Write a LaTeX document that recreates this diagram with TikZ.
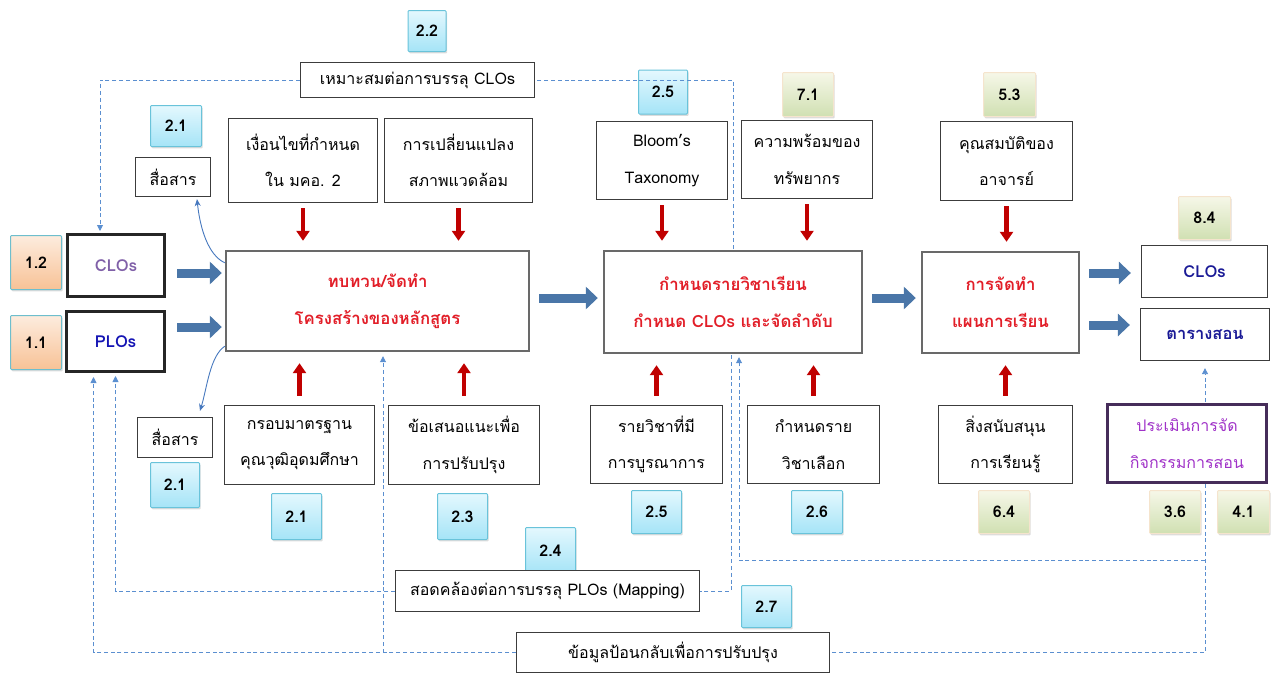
\documentclass[tikz,border=0pt]{standalone}
\usepackage{fontspec}
\setmainfont[Script=Thai]{Loma}
\usetikzlibrary{arrows.meta,shadows,calc}

\definecolor{fbblue}{RGB}{91,143,208}
\definecolor{arrblue}{RGB}{74,118,168}
\definecolor{redarr}{RGB}{192,0,0}
\definecolor{maintxt}{RGB}{226,30,40}
\definecolor{boxline}{RGB}{60,60,60}
\definecolor{mainline}{RGB}{105,105,105}
\definecolor{navytxt}{RGB}{26,26,150}
\definecolor{plotxt}{RGB}{20,20,180}
\definecolor{clotxt}{RGB}{128,96,168}
\definecolor{evaltxt}{RGB}{160,50,200}
\definecolor{evalline}{RGB}{70,45,90}
\definecolor{curvcol}{RGB}{70,120,190}
\definecolor{bbline}{RGB}{105,195,218}
\definecolor{bbtop}{RGB}{228,248,254}
\definecolor{bbbot}{RGB}{165,228,247}
\definecolor{gbline}{RGB}{245,228,205}
\definecolor{gbtop}{RGB}{246,247,232}
\definecolor{gbbot}{RGB}{208,224,178}
\definecolor{obline}{RGB}{110,190,205}
\definecolor{obtop}{RGB}{253,236,222}
\definecolor{obbot}{RGB}{248,194,150}

\tikzset{
  x=1pt, y=-1pt,
  txt/.style={font=\fontsize{16}{36.5}\selectfont},
  box/.style={draw=boxline, line width=1.3pt, fill=white, align=center, inner sep=0pt, txt},
  mainbox/.style={draw=mainline, line width=2.4pt, fill=white, align=center, inner sep=0pt,
    font=\bfseries\fontsize{16.8}{37}\selectfont, text=maintxt},
  objbox/.style={draw=black!85, line width=3pt, fill=white, align=center, inner sep=0pt,
    font=\bfseries\fontsize{16.5}{18}\selectfont},
  badge/.style={rounded corners=1pt, line width=1pt, inner sep=0pt,
    font=\bfseries\fontsize{16}{18}\selectfont,
    drop shadow={shadow xshift=1.2pt, shadow yshift=-1.8pt, opacity=0.28}},
  bluebadge/.style={badge, draw=bbline, top color=bbtop, bottom color=bbbot},
  greenbadge/.style={badge, draw=gbline, top color=gbtop, bottom color=gbbot},
  orangebadge/.style={badge, draw=obline, top color=obtop, bottom color=obbot},
  blockarr/.style={draw=arrblue, line width=9pt, -{Triangle[length=12pt,width=22pt]}},
  redup/.style={draw=redarr, line width=4.2pt, -{Triangle[length=10pt,width=13pt]}},
  fb/.style={draw=fbblue, line width=0.9pt, dash pattern=on 4pt off 2.8pt},
  fbarr/.style={fb, -{Triangle[length=6pt,width=6pt]}},
  curv/.style={draw=curvcol, line width=0.9pt, -{Stealth[length=7pt,width=6pt]}}
}

\begin{document}
\begin{tikzpicture}
\useasboundingbox (0,0) rectangle (1277,675);

% ---------- main process boxes ----------
\node[mainbox, minimum width=303pt, minimum height=100pt] (mainA) at (377.5,301) {ทบทวน/จัดทำ\\โครงสร้างของหลักสูตร};
\node[mainbox, minimum width=258pt, minimum height=102pt] (mainB) at (733,302) {กำหนดรายวิชาเรียน\\กำหนด CLOs และจัดลำดับ};
\node[mainbox, minimum width=157pt, minimum height=101pt] (mainC) at (1000.5,302.5) {การจัดทำ\\แผนการเรียน};

% ---------- inputs on the left ----------
\node[objbox, text=clotxt, minimum width=97pt, minimum height=62pt] (cloL) at (116,265.5) {CLOs};
\node[objbox, text=plotxt, minimum width=98pt, minimum height=60pt] (ploL) at (115.5,341.5) {PLOs};
\node[orangebadge, minimum width=51pt, minimum height=54pt] (b12) at (36,262.5) {1.2};
\node[orangebadge, minimum width=51pt, minimum height=54pt] (b11) at (36,342.5) {1.1};

% ---------- outputs on the right ----------
\node[box, minimum width=126pt, minimum height=52pt, font=\bfseries\fontsize{16.5}{18}\selectfont, text=navytxt] (cloR) at (1204.5,271.5) {CLOs};
\node[box, minimum width=129pt, minimum height=52pt, font=\bfseries\fontsize{16.5}{18}\selectfont, text=navytxt] (sched) at (1205,334.5) {ตารางสอน};
\node[greenbadge, minimum width=52pt, minimum height=43pt] (b84) at (1204.5,218) {8.4};

% ---------- upper factor boxes ----------
\node[box, minimum width=234pt, minimum height=35pt] (fitclo) at (417.5,80) {เหมาะสมต่อการบรรลุ CLOs};
\node[bluebadge, minimum width=38pt, minimum height=41pt] (b22) at (427,31) {2.2};
\node[box, minimum width=75pt, minimum height=39pt] (comA) at (173,177) {สื่อสาร};
\node[bluebadge, minimum width=51pt, minimum height=41pt] (b21a) at (176,126) {2.1};
\node[box, minimum width=149pt, minimum height=84pt] (condA) at (303,160.5) {เงื่อนไขที่กำหนด\\ใน มคอ. 2};
\node[box, minimum width=148pt, minimum height=84pt] (envA) at (458.5,160.5) {การเปลี่ยนแปลง\\สภาพแวดล้อม};
\node[box, minimum width=131pt, minimum height=78pt] (bloom) at (662,160.5) {Bloom’s\\Taxonomy};
\node[bluebadge, minimum width=49pt, minimum height=44pt] (b25a) at (663,92) {2.5};
\node[box, minimum width=131pt, minimum height=78pt] (res) at (807,159.5) {ความพร้อมของ\\ทรัพยากร};
\node[greenbadge, minimum width=51pt, minimum height=44pt] (b71) at (808,94.5) {7.1};
\node[box, minimum width=132pt, minimum height=79pt] (teach) at (1006.5,161) {คุณสมบัติของ\\อาจารย์};
\node[greenbadge, minimum width=52pt, minimum height=44pt] (b53) at (1009.5,94.5) {5.3};

% ---------- lower factor boxes ----------
\node[box, minimum width=75pt, minimum height=40pt] (comB) at (175,437.5) {สื่อสาร};
\node[bluebadge, minimum width=49pt, minimum height=45pt] (b21b) at (175,485) {2.1};
\node[box, minimum width=150pt, minimum height=79pt] (stdB) at (299.5,445) {กรอบมาตรฐาน\\คุณวุฒิอุดมศึกษา};
\node[bluebadge, minimum width=50pt, minimum height=46pt] (b21c) at (296.5,516.5) {2.1};
\node[box, minimum width=151pt, minimum height=79pt] (sugB) at (464,445) {ข้อเสนอแนะเพื่อ\\การปรับปรุง};
\node[bluebadge, minimum width=50pt, minimum height=46pt] (b23) at (462.5,516.5) {2.3};
\node[bluebadge, minimum width=50pt, minimum height=46pt] (b24) at (550.5,550.5) {2.4};
\node[box, minimum width=132pt, minimum height=78pt] (integ) at (656.5,444.5) {รายวิชาที่มี\\การบูรณาการ};
\node[bluebadge, minimum width=50pt, minimum height=43pt] (b25b) at (656.5,512) {2.5};
\node[box, minimum width=132pt, minimum height=78pt] (elect) at (813.5,444.5) {กำหนดราย\\วิชาเลือก};
\node[bluebadge, minimum width=51pt, minimum height=43pt] (b26) at (817,512) {2.6};
\node[box, minimum width=134pt, minimum height=78pt] (supp) at (1005.5,444.5) {สิ่งสนับสนุน\\การเรียนรู้};
\node[greenbadge, minimum width=51pt, minimum height=43pt] (b64) at (1004,512) {6.4};
\node[box, draw=evalline, line width=3pt, text=evaltxt, minimum width=159pt, minimum height=78pt] (eval) at (1187,443.5) {ประเมินการจัด\\กิจกรรมการสอน};
\node[greenbadge, minimum width=51pt, minimum height=43pt] (b36) at (1175,512) {3.6};
\node[greenbadge, minimum width=52pt, minimum height=43pt] (b41) at (1243.5,512) {4.1};

% ---------- feedback boxes ----------
\node[box, minimum width=304pt, minimum height=41pt] (mapB) at (547.5,591) {สอดคล้องต่อการบรรลุ PLOs (Mapping)};
\node[box, minimum width=313pt, minimum height=40pt] (fbB) at (673,652.5) {ข้อมูลป้อนกลับเพื่อการปรับปรุง};
\node[bluebadge, minimum width=50pt, minimum height=42pt] (b27) at (766.5,606.5) {2.7};

% ---------- main flow (block arrows) ----------
\draw[blockarr] ($(cloL.east)+(11,7.5)$) -- ($(cloL.east -| mainA.west)+(-3,7.5)$);
\draw[blockarr] ($(ploL.east)+(11,-14.5)$) -- ($(ploL.east -| mainA.west)+(-3,-14.5)$);
\draw[blockarr] ($(mainA.east)+(9,-3)$) -- ($(mainA.east -| mainB.west)+(-5,-3)$);
\draw[blockarr] ($(mainB.east)+(9,-4)$) -- ($(mainB.east -| mainC.west)+(-5,-4)$);
\draw[blockarr] ($(mainC.east |- cloR.west)+(9,1.5)$) -- ($(cloR.west)+(-10,1.5)$);
\draw[blockarr] ($(mainC.east |- sched.west)+(9,-9.5)$) -- ($(sched.west)+(-10,-9.5)$);

% ---------- factors feeding the process (red arrows) ----------
\foreach \src/\dst in {condA/mainA, envA/mainA, bloom/mainB, res/mainB, teach/mainC}
  \draw[redup, shorten <=5pt, shorten >=9pt] (\src.south) -- (\src.south |- \dst.north);
\foreach \src/\dst in {stdB/mainA, sugB/mainA, integ/mainB, elect/mainB, supp/mainC}
  \draw[redup, shorten <=9pt, shorten >=11pt] (\src.north) -- (\src.north |- \dst.south);

% ---------- communication links ----------
\draw[curv] ($(mainA.north west)+(0,13)$) .. controls (208,255) and (200,228) .. ($(comA.south)+(24,2)$);
\draw[curv] ($(mainA.south west)+(0,-6)$) .. controls (210,356) and (207,388) .. ($(comB.north)+(25,-6)$);

% ---------- feedback loops (dashed) ----------
\draw[fb] ($(mainB.north)+(0,-1)$) |- (fitclo.east);
\draw[fbarr, shorten >=2pt] (fitclo.west) -| ($(cloL.north west)+(34,0)$);
\draw[fb] ($(mainB.south)+(-2,1)$) |- (mapB.east);
\draw[fbarr, shorten >=3pt] (mapB.west) -| (ploL.south);
\draw[fbarr, shorten <=1pt, shorten >=7pt] (eval.north -| sched.south) -- (sched.south);
\draw[fb] (eval.south -| sched.south) |- (fbB.east);
\coordinate (jA) at (1205,560);
\draw[fbarr, shorten >=3pt] (jA) -| ($(mainB.south)+(6,0)$);
\draw[fbarr, shorten >=4pt] (fbB.west) -| ($(ploL.south)+(-22,0)$);
\coordinate (jB) at (383,652.5);
\draw[fbarr, shorten >=4pt] (jB) -- (jB |- mainA.south);
\end{tikzpicture}
\end{document}
